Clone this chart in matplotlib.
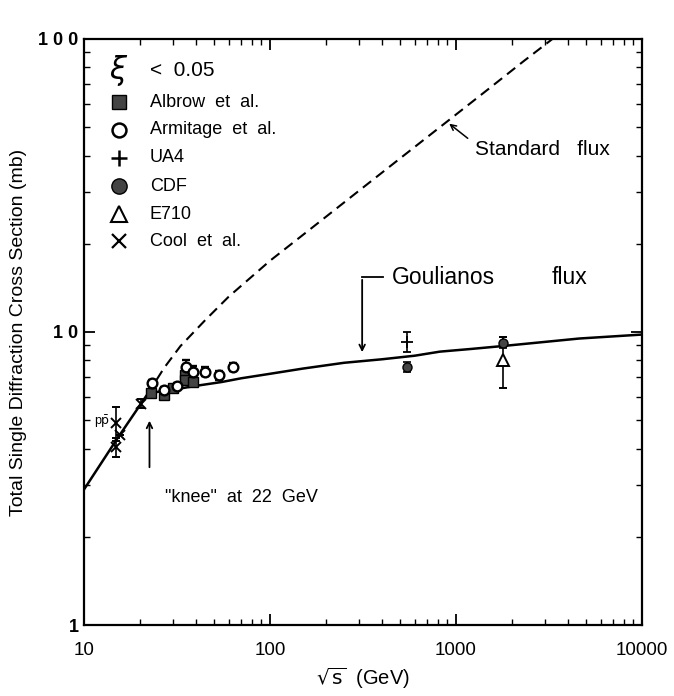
import numpy as np
import matplotlib
matplotlib.use("Agg")
import matplotlib.pyplot as plt
from matplotlib.ticker import LogLocator, NullFormatter, FixedLocator, FixedFormatter

plt.rcParams['font.family'] = ['Liberation Sans', 'DejaVu Sans']

# theory curves: sigma_SD (mb) vs sqrt(s) (GeV)
goulianos_x = [10, 15, 22, 25, 30, 40, 55, 70, 100, 150, 250, 400, 600, 820, 1200, 1800, 3000, 4600, 10000]
goulianos_y = [2.9, 4.3, 6.15, 6.25, 6.35, 6.55, 6.75, 6.95, 7.2, 7.5, 7.85, 8.07, 8.3, 8.57, 8.75, 8.96, 9.25, 9.5, 9.8]
standard_x = [22, 27, 33, 45, 60, 100, 170, 300, 500, 890, 1500, 2300, 3300]
standard_y = [6.15, 7.55, 8.95, 11.0, 13.2, 17.5, 22.8, 30.3, 39.1, 52.1, 67.6, 83.8, 100.0]

# measurements
albrow_x = [23, 27, 30, 35, 35, 38.7]
albrow_y = [6.18, 6.1, 6.43, 7.13, 6.86, 6.77]
albrow_err = [0.15, 0.15, 0.15, 0.2, 0.2, 0.2]

armitage_x = [23.1, 26.9, 31.8, 35.2, 38.7, 44.7, 53.3, 63]
armitage_y = [6.68, 6.34, 6.54, 7.61, 7.32, 7.32, 7.13, 7.61]
armitage_err = [0.2, 0.15, 0.15, 0.4, 0.35, 0.25, 0.25, 0.25]

ua4_x = [546]
ua4_y = [9.27]
ua4_err = [0.75]

cdf_x = [546, 1800]
cdf_y = [7.6, 9.2]
cdf_err = [0.3, 0.4]

e710_x = [1800]
e710_y = [8.05]
e710_err = [1.6]

cool_x = [14.8, 14.9, 15.6, 20.2]
cool_y = [4.9, 4.05, 4.45, 5.7]
cool_err = [0.65, 0.3, 0.0, 0.2]

fig = plt.figure(figsize=(6.74, 6.96), dpi=100)
ax = fig.add_axes([0.1246, 0.102, 0.8279, 0.842])
ax.set_xscale('log')
ax.set_yscale('log')
ax.set_xlim(10, 10000)
ax.set_ylim(1, 100)

ax.plot(goulianos_x, goulianos_y, color='black', lw=1.8)
ax.plot(standard_x, standard_y, color='black', lw=1.5, ls=(0, (5, 3)))

ebkw = dict(ls='none', ecolor='black', elinewidth=1.2, capsize=3, capthick=1.2)
ax.errorbar(albrow_x, albrow_y, yerr=albrow_err, marker='s', ms=6.5, mfc='#444444', mec='black', **ebkw)
ax.errorbar(armitage_x, armitage_y, yerr=armitage_err, marker='o', ms=7, mfc='white', mec='black', mew=1.7, **ebkw)
ax.errorbar(ua4_x, ua4_y, yerr=ua4_err, marker='+', ms=8, mec='black', mew=1.3, **ebkw)
ax.errorbar(cdf_x, cdf_y, yerr=cdf_err, marker='o', ms=6.5, mfc='#444444', mec='black', **ebkw)
ax.errorbar(e710_x, e710_y, yerr=e710_err, marker='^', ms=9, mfc='white', mec='black', mew=1.4, **ebkw)
ax.errorbar(cool_x, cool_y, yerr=cool_err, marker='x', ms=7, mec='black', mew=1.4, **ebkw)

# legend drawn by hand
mx, tx = 0.0627, 0.118
rows = [0.947, 0.892, 0.845, 0.797, 0.749, 0.701, 0.655]
ax.text(mx, rows[0], r'$\xi$', transform=ax.transAxes, fontsize=22, ha='center', va='center')
ax.text(tx, rows[0], '<  0.05', transform=ax.transAxes, fontsize=15, va='center')
legend_items = [
    ('s', dict(mfc='#444444', mec='black', ms=10), 'Albrow  et  al.'),
    ('o', dict(mfc='white', mec='black', ms=10, mew=1.8), 'Armitage  et  al.'),
    ('+', dict(mec='black', ms=11, mew=1.8), 'UA4'),
    ('o', dict(mfc='#444444', mec='black', ms=11), 'CDF'),
    ('^', dict(mfc='white', mec='black', ms=11, mew=1.5), 'E710'),
    ('x', dict(mec='black', ms=10, mew=1.6), 'Cool  et  al.'),
]
for (m, kw, label), yy in zip(legend_items, rows[1:]):
    ax.plot([mx], [yy], marker=m, ls='none', transform=ax.transAxes, clip_on=False, **kw)
    ax.text(tx, yy, label, transform=ax.transAxes, fontsize=13, va='center')

# annotations
ax.text(13.8, 4.93, r'p$\bar{\rm p}$', fontsize=9, ha='right', va='center')
ax.annotate('', xy=(22.5, 5.09), xytext=(22.5, 3.38),
            arrowprops=dict(arrowstyle='->', color='black', lw=1.3))
ax.text(27.3, 2.73, '"knee"  at  22  GeV', fontsize=13, va='center')

ax.annotate('', xy=(895, 52.1), xytext=(1188, 45.2),
            arrowprops=dict(arrowstyle='->', color='black', lw=1.1))
ax.text(1265, 41.8, 'Standard   flux', fontsize=15, va='center')

ax.plot([313, 405], [15.4, 15.4], color='black', lw=1.3)
ax.annotate('', xy=(313, 8.35), xytext=(313, 15.4),
            arrowprops=dict(arrowstyle='->', color='black', lw=1.3))
ax.text(453, 15.4, 'Goulianos', fontsize=16.5, va='center')
ax.text(3280, 15.4, 'flux', fontsize=16.5, va='center')

# axes styling
for s in ax.spines.values():
    s.set_linewidth(1.6)
ax.tick_params(which='both', direction='in', top=True, right=True)
ax.tick_params(which='major', length=8, width=1.3)
ax.tick_params(which='minor', length=4, width=1.0)
ax.xaxis.set_major_locator(FixedLocator([10, 100, 1000, 10000]))
ax.xaxis.set_major_formatter(FixedFormatter(['10', '100', '1000', '10000']))
ax.xaxis.set_minor_locator(LogLocator(base=10, subs=np.arange(2, 10)))
ax.xaxis.set_minor_formatter(NullFormatter())
ax.yaxis.set_major_locator(FixedLocator([1, 10, 100]))
ax.yaxis.set_major_formatter(FixedFormatter(['1', '1 0', '1 0 0']))
ax.yaxis.set_minor_locator(LogLocator(base=10, subs=np.arange(2, 10)))
ax.yaxis.set_minor_formatter(NullFormatter())
for lab in ax.get_yticklabels():
    lab.set_fontweight('bold')
    lab.set_fontsize(13)
for lab in ax.get_xticklabels():
    lab.set_fontsize(13.5)
ax.tick_params(axis='x', pad=12)
ax.tick_params(axis='y', pad=4)

ax.set_xlabel(r'$\sqrt{\rm s}$  (GeV)', fontsize=14.5, labelpad=5)
ax.set_ylabel('Total Single Diffraction Cross Section (mb)', fontsize=14, labelpad=8)

fig.savefig('out.png', dpi=100)
